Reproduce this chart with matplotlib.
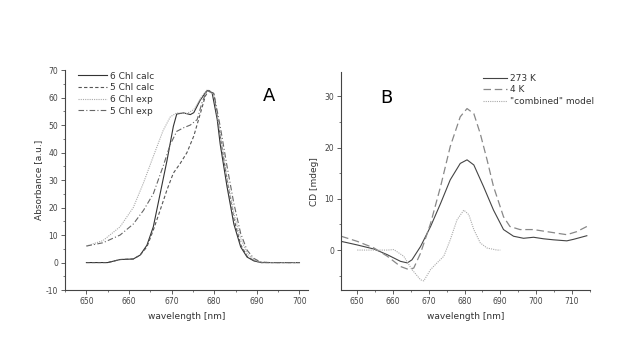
import matplotlib
matplotlib.use("Agg")
from matplotlib import pyplot as plt
from matplotlib.ticker import MultipleLocator
import numpy as np

plt.rcParams["axes.unicode_minus"] = False

# panel A: absorbance spectra
wl_6calc = [650, 655, 657.9, 661, 662.6, 664.2, 665.7, 667.3, 668.9, 670.4, 671.2, 672.8, 674.4,
            675.2, 676.7, 678.3, 679.5, 680.7, 681.4, 683, 684.6, 686.2, 687.7, 689.3, 691, 700]
abs_6calc = [0, 0, 1.1, 1.3, 2.7, 6.3, 13, 25, 37, 49.5, 54, 54.4, 53.8,
             54.5, 59, 62.6, 61.7, 52, 43, 27.6, 14, 5.7, 2, 0.6, 0, 0]

wl_5calc = [650, 655, 657.9, 661, 662.6, 664.2, 665.7, 667.3, 668.9, 670.4, 672, 673.6, 675.2,
            676.7, 677.9, 678.7, 679.9, 681.4, 683, 684.6, 686.2, 687.7, 689.3, 691, 700]
abs_5calc = [0, 0, 1.1, 1.3, 2.7, 5.7, 11.8, 19, 26.4, 32.5, 36, 40, 46,
             54, 60.5, 62.6, 61.5, 46, 30, 16, 6.5, 2.3, 0.7, 0, 0]

wl_6exp = [650, 653.9, 657.9, 661, 663.4, 665.7, 668, 669.7, 671.2, 673.6, 675.2, 677.1, 678.3,
           679.9, 681.4, 683, 684.6, 686.2, 687.7, 689.3, 690.9, 693, 700]
abs_6exp = [6, 8, 13, 20, 29, 38.6, 48, 53, 54.4, 54.2, 55.6, 60.5, 62.6,
            61, 47, 31, 18, 8.8, 3.3, 1, 0.2, 0, 0]

wl_5exp = [650, 653.9, 657.9, 661, 663.4, 665.7, 668, 669.7, 671.2, 672.8, 674.4, 676, 677.1,
           678.3, 679.9, 681.4, 683, 684.6, 686.2, 687.7, 689.3, 690.9, 693, 700]
abs_5exp = [6, 7.2, 10, 14, 19, 25, 35, 43, 47.7, 49, 50, 52, 58,
            62.6, 61.5, 49.5, 35, 21.5, 10.6, 4.5, 1.5, 0.2, 0, 0]

# panel B: CD spectra
wl_273 = [645.5, 650, 654.7, 658.4, 662.1, 664, 665.3, 667.7, 670.5, 673.3, 676, 678.8, 680.7,
          682.6, 685.3, 688.1, 690.9, 693.7, 696.5, 699.3, 702.1, 704.9, 708.6, 710.5, 714.2]
cd_273 = [1.7, 1.0, 0.2, -0.9, -2.2, -2.5, -1.9, 0.7, 4.6, 9.1, 13.7, 16.9, 17.6,
          16.6, 12.4, 7.8, 4.0, 2.7, 2.3, 2.5, 2.2, 2.0, 1.8, 2.1, 2.8]

wl_4k = [645.5, 650, 654.7, 658.4, 662.1, 664.4, 665.8, 667.7, 670.5, 673.3, 676, 678.8, 680.7,
         682.6, 684.4, 686.3, 688.1, 690.9, 692.7, 695.5, 699.3, 703, 706.7, 708.6, 711.4, 714.2]
cd_4k = [2.7, 1.7, 0.4, -1.2, -3.2, -3.8, -3.5, -0.6, 5.2, 12.4, 20.2, 26.0, 27.6,
         26.6, 22.7, 17.6, 12.4, 6.5, 4.6, 4.0, 4.0, 3.6, 3.2, 3.0, 3.6, 4.6]

wl_comb = [650, 654.7, 658.4, 660.2, 663, 665.3, 667.7, 668.6, 670.5, 672.3, 674.2, 676, 677.9,
           679.8, 681.2, 682.6, 684.4, 686.3, 689.1, 690]
cd_comb = [0, 0, 0, 0.1, -1.2, -3.8, -5.8, -6.0, -3.8, -2.5, -1.2, 2.0, 5.9,
           7.8, 6.9, 4.0, 1.4, 0.4, 0, 0]

fs_tick = 5.5
fs_lab = 6.5

fig = plt.figure(figsize=(6.26, 3.59), dpi=100)
axA = fig.add_axes([0.104, 0.192, 0.388, 0.613])
axB = fig.add_axes([0.545, 0.192, 0.397, 0.607])

axA.plot(wl_6calc, abs_6calc, color="#333333", lw=0.8, ls="-", label="6 Chl calc")
axA.plot(wl_5calc, abs_5calc, color="#555555", lw=0.8, ls=(0, (3, 2)), label="5 Chl calc")
axA.plot(wl_6exp, abs_6exp, color="#aaaaaa", lw=0.8, ls=(0, (1, 1)), label="6 Chl exp")
axA.plot(wl_5exp, abs_5exp, color="#666666", lw=0.8, ls=(0, (5, 2, 1, 2)), label="5 Chl exp")
axA.set_xlim(645, 702)
axA.set_ylim(-10, 70)
axA.xaxis.set_major_locator(MultipleLocator(10))
axA.xaxis.set_minor_locator(MultipleLocator(5))
axA.yaxis.set_major_locator(MultipleLocator(10))
axA.yaxis.set_minor_locator(MultipleLocator(5))
axA.set_xlabel("wavelength [nm]", fontsize=fs_lab, color="#333333")
axA.set_ylabel("Absorbance [a.u.]", fontsize=fs_lab, color="#333333", labelpad=2)
axA.text(0.84, 0.88, "A", transform=axA.transAxes, fontsize=13, ha="center", va="center")
axA.legend(loc="upper left", bbox_to_anchor=(0.02, 1.03), frameon=False, fontsize=6.5,
           handlelength=3.2, handletextpad=0.3, labelspacing=0.3, labelcolor="#333333")

axB.plot(wl_273, cd_273, color="#444444", lw=0.8, ls="-", label="273 K")
axB.plot(wl_4k, cd_4k, color="#888888", lw=0.9, ls=(0, (6, 3)), label="4 K")
axB.plot(wl_comb, cd_comb, color="#aaaaaa", lw=0.8, ls=(0, (1, 1)), label='"combined" model')
axB.set_xlim(645.5, 715)
axB.set_ylim(-7.8, 34.7)
axB.xaxis.set_major_locator(MultipleLocator(10))
axB.xaxis.set_minor_locator(MultipleLocator(5))
axB.yaxis.set_major_locator(MultipleLocator(10))
axB.yaxis.set_minor_locator(MultipleLocator(5))
axB.set_xlabel("wavelength [nm]", fontsize=fs_lab, color="#333333")
axB.set_ylabel("CD [mdeg]", fontsize=fs_lab, color="#333333", labelpad=4)
axB.text(0.18, 0.88, "B", transform=axB.transAxes, fontsize=13, ha="center", va="center")
axB.legend(loc="upper left", bbox_to_anchor=(0.54, 1.03), frameon=False, fontsize=6.5,
           handlelength=2.6, handletextpad=0.3, labelspacing=0.3, labelcolor="#333333")

for ax in (axA, axB):
    ax.spines["top"].set_visible(False)
    ax.spines["right"].set_visible(False)
    for s in ("left", "bottom"):
        ax.spines[s].set_color("#444444")
        ax.spines[s].set_linewidth(0.8)
    ax.tick_params(which="major", direction="out", length=3, width=0.6,
                   labelsize=fs_tick, colors="#444444", pad=2)
    ax.tick_params(which="minor", direction="out", length=1.5, width=0.5, colors="#444444")

fig.savefig("out.png", dpi=100)
